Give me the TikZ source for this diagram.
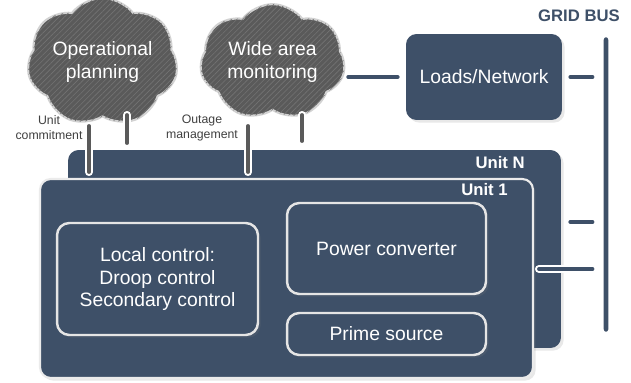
\documentclass[tikz,border=0pt]{standalone}
\usepackage{fontspec}
\setmainfont{Liberation Sans}
\usetikzlibrary{shapes.symbols, patterns.meta, shadows}

\definecolor{slate}{HTML}{3E5068}
\definecolor{cloudgray}{HTML}{5A5A5A}

\begin{document}
\begin{tikzpicture}[x=0.02cm, y=-0.02cm,
    box/.style={fill=slate, rounded corners=6pt, text=white, align=center,
        font=\fontsize{11}{13}\selectfont, inner sep=0pt,
        drop shadow={opacity=0.18, shadow xshift=1.5pt, shadow yshift=-1.5pt}},
    part/.style={box, draw=white!90!black, line width=1.4pt, rounded corners=7pt},
    cloudy/.style={cloud, cloud puffs=7, cloud puff arc=105, aspect=1.3,
        fill=cloudgray, draw=gray!35, line width=1.2pt, text=white, align=center,
        font=\fontsize{11}{13}\selectfont, inner sep=0pt,
        postaction={pattern={Lines[angle=45, distance=2.2pt, line width=0.35pt]},
            pattern color=cloudgray!85!white}},
    unitlbl/.style={text=white, inner sep=0pt, font=\fontsize{9.5}{11}\selectfont\bfseries},
    small/.style={text=black!75, align=center, font=\fontsize{7}{8.5}\selectfont},
    wire/.style={draw=slate, line width=2.2pt, line cap=round,
        preaction={draw=white, line width=4.6pt, line cap=round}},
    cwire/.style={wire, draw=cloudgray}]
    \useasboundingbox (0,0) rectangle (631,382);

    \node[box, minimum width=9.86cm, minimum height=3.96cm] (unitN) at (314.5,249) {};
    \node[unitlbl, anchor=east] (unitN-lbl) at (525,163) {Unit N};
    \node[box, draw=white!92!black, line width=1.2pt, minimum width=9.86cm, minimum height=3.98cm] (unit1) at (286.5,278.5) {};
    \node[unitlbl, anchor=east] (unit1-lbl) at (508,190) {Unit 1};
    \node[part, minimum width=4.02cm, minimum height=2.24cm] (local) at (157.5,279) {Local control:\\Droop control\\Secondary control};
    \node[part, minimum width=3.98cm, minimum height=1.82cm] (conv) at (386.5,248.5) {Power converter};
    \node[part, minimum width=3.98cm, minimum height=0.84cm] (prime) at (386.5,334) {Prime source};
    \node[box, minimum width=3.12cm, minimum height=1.72cm] (loads) at (484,77) {Loads/Network};
    \node[fill=slate, draw=white, line width=1.2pt, rounded corners=2pt, inner sep=0pt,
        minimum width=0.14cm, minimum height=5.94cm] (bus) at (606,184.5) {};
    \node[text=slate, font=\fontsize{9.5}{11}\selectfont\bfseries] (bus-lbl) at (579,16) {GRID BUS};
    \node[cloudy, minimum width=2.98cm, minimum height=2.26cm] (cloud1) at (102.5,62) {Operational\\planning};
    \node[cloudy, minimum width=2.9cm, minimum height=2.3cm] (cloud2) at (272.5,62) {Wide area\\monitoring};
    \node[small] (commit) at (49,128) {Unit\\commitment};
    \node[small] (outage) at (202,128) {Outage\\management};

    \coordinate (c1a) at (89,126);
    \coordinate (c1b) at (89,172);
    \coordinate (c1c) at (127,115);
    \coordinate (c1d) at (127,143);
    \coordinate (c2a) at (248,126);
    \coordinate (c2b) at (248,172);
    \coordinate (c2c) at (302,115);
    \coordinate (c2d) at (302,141);

    \draw[cwire] (c1a) -- (c1b);
    \draw[cwire] (c1c) -- (c1d);
    \draw[cwire] (c2a) -- (c2b);
    \draw[cwire] (c2c) -- (c2d);
    \draw[wire, shorten <=0.06cm, shorten >=0.16cm] (loads.west -| cloud2.east) -- (loads.west);
    \draw[wire, shorten <=0.16cm, shorten >=0.18cm] (loads.east) -- (loads.east -| bus.west);
    \draw[wire, shorten <=0.18cm, shorten >=0.18cm] ([yshift=0.54cm]unitN.east) -- ([yshift=0.54cm]unitN.east -| bus.west);
    \draw[wire, shorten <=0.1cm, shorten >=0.18cm] ([yshift=0.19cm]unit1.east) -- ([yshift=0.19cm]unit1.east -| bus.west);
\end{tikzpicture}
\end{document}
